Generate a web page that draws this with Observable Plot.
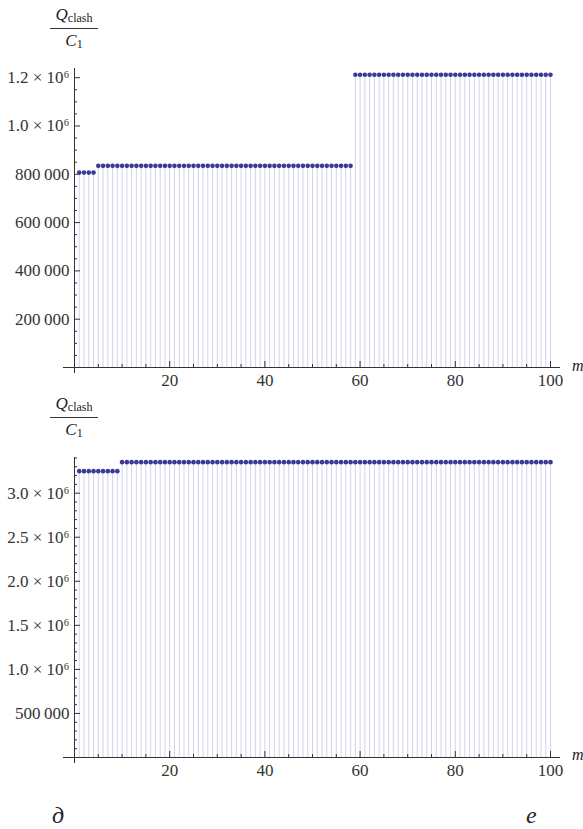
<!DOCTYPE html>
<html>
<head>
<meta charset="utf-8">
<script src="https://cdn.jsdelivr.net/npm/d3@7"></script>
<script src="https://cdn.jsdelivr.net/npm/@observablehq/plot@0.6"></script>
<style>
  body { margin: 0; background: #fff; }
  #root { position: relative; width: 583px; height: 829px; overflow: hidden; font-family: "Liberation Serif", "DejaVu Serif", serif; color: #222; }
  .panel { position: absolute; left: 0; width: 583px; }
  .panel svg { display: block; }
  .frac { position: absolute; left: 50px; width: 48px; text-align: center; font-size: 17px; line-height: 19px; }
  .frac .num { border-bottom: 1px solid #333; padding-bottom: 2px; white-space: nowrap; }
  .frac .den { padding-top: 2px; white-space: nowrap; }
  .frac i { font-style: italic; }
  .frac sub { font-size: 12px; vertical-align: baseline; position: relative; top: 2px; }
  .axname { position: absolute; left: 572px; font-style: italic; font-size: 16px; }
  .tag { position: absolute; font-style: italic; font-size: 24px; line-height: 24px; }
</style>
</head>
<body>
<div id="root"></div>
<script>
// Interaction index m
const ms = [
  1, 2, 3, 4, 5, 6, 7, 8, 9, 10,
  11, 12, 13, 14, 15, 16, 17, 18, 19, 20,
  21, 22, 23, 24, 25, 26, 27, 28, 29, 30,
  31, 32, 33, 34, 35, 36, 37, 38, 39, 40,
  41, 42, 43, 44, 45, 46, 47, 48, 49, 50,
  51, 52, 53, 54, 55, 56, 57, 58, 59, 60,
  61, 62, 63, 64, 65, 66, 67, 68, 69, 70,
  71, 72, 73, 74, 75, 76, 77, 78, 79, 80,
  81, 82, 83, 84, 85, 86, 87, 88, 89, 90,
  91, 92, 93, 94, 95, 96, 97, 98, 99, 100
];

// Q_clash / C_1, panel д
const qTop = [
  807000, 807000, 807000, 807000, 835000, 835000, 835000, 835000, 835000, 835000,
  835000, 835000, 835000, 835000, 835000, 835000, 835000, 835000, 835000, 835000,
  835000, 835000, 835000, 835000, 835000, 835000, 835000, 835000, 835000, 835000,
  835000, 835000, 835000, 835000, 835000, 835000, 835000, 835000, 835000, 835000,
  835000, 835000, 835000, 835000, 835000, 835000, 835000, 835000, 835000, 835000,
  835000, 835000, 835000, 835000, 835000, 835000, 835000, 835000, 1212000, 1212000,
  1212000, 1212000, 1212000, 1212000, 1212000, 1212000, 1212000, 1212000, 1212000, 1212000,
  1212000, 1212000, 1212000, 1212000, 1212000, 1212000, 1212000, 1212000, 1212000, 1212000,
  1212000, 1212000, 1212000, 1212000, 1212000, 1212000, 1212000, 1212000, 1212000, 1212000,
  1212000, 1212000, 1212000, 1212000, 1212000, 1212000, 1212000, 1212000, 1212000, 1212000
];

// Q_clash / C_1, panel е
const qBottom = [
  3250000, 3250000, 3250000, 3250000, 3250000, 3250000, 3250000, 3250000, 3250000, 3352000,
  3352000, 3352000, 3352000, 3352000, 3352000, 3352000, 3352000, 3352000, 3352000, 3352000,
  3352000, 3352000, 3352000, 3352000, 3352000, 3352000, 3352000, 3352000, 3352000, 3352000,
  3352000, 3352000, 3352000, 3352000, 3352000, 3352000, 3352000, 3352000, 3352000, 3352000,
  3352000, 3352000, 3352000, 3352000, 3352000, 3352000, 3352000, 3352000, 3352000, 3352000,
  3352000, 3352000, 3352000, 3352000, 3352000, 3352000, 3352000, 3352000, 3352000, 3352000,
  3352000, 3352000, 3352000, 3352000, 3352000, 3352000, 3352000, 3352000, 3352000, 3352000,
  3352000, 3352000, 3352000, 3352000, 3352000, 3352000, 3352000, 3352000, 3352000, 3352000,
  3352000, 3352000, 3352000, 3352000, 3352000, 3352000, 3352000, 3352000, 3352000, 3352000,
  3352000, 3352000, 3352000, 3352000, 3352000, 3352000, 3352000, 3352000, 3352000, 3352000
];

// Axis ticks and labels
const xTicks = [20, 40, 60, 80, 100];
const xMinor = [5, 10, 15, 25, 30, 35, 45, 50, 55, 65, 70, 75, 85, 90, 95];

const yTicksTop = [200000, 400000, 600000, 800000, 1000000, 1200000];
const yLabelsTop = ["200\u2009000", "400\u2009000", "600\u2009000", "800\u2009000", "1.0 \u00d7 10\u2076", "1.2 \u00d7 10\u2076"];

const yTicksBottom = [500000, 1000000, 1500000, 2000000, 2500000, 3000000];
const yLabelsBottom = ["500\u2009000", "1.0 \u00d7 10\u2076", "1.5 \u00d7 10\u2076", "2.0 \u00d7 10\u2076", "2.5 \u00d7 10\u2076", "3.0 \u00d7 10\u2076"];

const W = 583, ML = 74, MR = 33, MT = 68;
const ink = "#333";
const dotColor = "#3b3b95";
const stemColor = "#d3d3ee";

function stemPlot({values, yMax, yTicks, yLabels, yMinorStep, height, marginBottom}) {
  const data = ms.map((m, i) => ({m, v: values[i]}));
  const plotH = height - MT - marginBottom;
  const plotW = W - ML - MR;
  const yMinor = d3.range(yMinorStep, yMax, yMinorStep).filter(v => !yTicks.includes(v));
  return Plot.plot({
    width: W,
    height,
    marginLeft: ML,
    marginRight: MR,
    marginTop: MT,
    marginBottom,
    x: {domain: [0, 100], label: null},
    y: {domain: [0, yMax], label: null},
    style: {fontFamily: "'Liberation Serif', 'DejaVu Serif', serif", fontSize: "17px", color: ink, background: "white"},
    marks: [
      // stems
      Plot.ruleX(data, {x: "m", y1: 0, y2: "v", stroke: stemColor, strokeWidth: 1}),
      // axis lines crossing at the origin
      Plot.ruleY([0], {insetLeft: -11, insetRight: -10, stroke: ink, strokeWidth: 1}),
      Plot.ruleX([0], {insetBottom: -6, stroke: ink, strokeWidth: 1}),
      // inward tick marks
      Plot.tickX(xTicks, {x: d => d, insetTop: plotH - 6, stroke: ink}),
      Plot.tickX(xMinor, {x: d => d, insetTop: plotH - 3, stroke: ink}),
      Plot.tickY(yTicks, {y: d => d, insetRight: plotW - 6, stroke: ink}),
      Plot.tickY(yMinor, {y: d => d, insetRight: plotW - 3, stroke: ink}),
      // tick labels
      Plot.axisX(xTicks, {tickSize: 0, tickPadding: 6, fill: ink, label: null}),
      Plot.axisY(yTicks, {tickSize: 0, tickPadding: 5, fill: ink, label: null, tickFormat: d => yLabels[yTicks.indexOf(d)]}),
      // points
      Plot.dot(data, {x: "m", y: "v", r: 2.3, fill: dotColor, stroke: null})
    ]
  });
}

const root = document.getElementById("root");

function addPanel(top, height, svg) {
  const div = document.createElement("div");
  div.className = "panel";
  div.style.top = top + "px";
  div.style.height = height + "px";
  div.appendChild(svg);
  root.appendChild(div);
  return div;
}

function addFrac(panel, top) {
  const f = document.createElement("div");
  f.className = "frac";
  f.style.top = top + "px";
  f.innerHTML = '<div class="num"><i>Q</i><sub>clash</sub></div><div class="den"><i>C</i><sub>1</sub></div>';
  panel.appendChild(f);
}

function addText(panel, cls, text, left, top) {
  const s = document.createElement("div");
  s.className = cls;
  s.textContent = text;
  if (left != null) s.style.left = left + "px";
  s.style.top = top + "px";
  panel.appendChild(s);
}

const topH = 389;
const p1 = addPanel(0, topH, stemPlot({
  values: qTop, yMax: 1238000, yTicks: yTicksTop, yLabels: yLabelsTop,
  yMinorStep: 50000, height: topH, marginBottom: 22
}));
addFrac(p1, 5);
addText(p1, "axname", "m", null, 357);

const botH = 440;
const p2 = addPanel(topH, botH, stemPlot({
  values: qBottom, yMax: 3405000, yTicks: yTicksBottom, yLabels: yLabelsBottom,
  yMinorStep: 100000, height: botH, marginBottom: 72
}));
addFrac(p2, 5);
addText(p2, "axname", "m", null, 357);
addText(p2, "tag", "\u0434", 52, 414);
addText(p2, "tag", "\u0435", 526, 414);
</script>
</body>
</html>
